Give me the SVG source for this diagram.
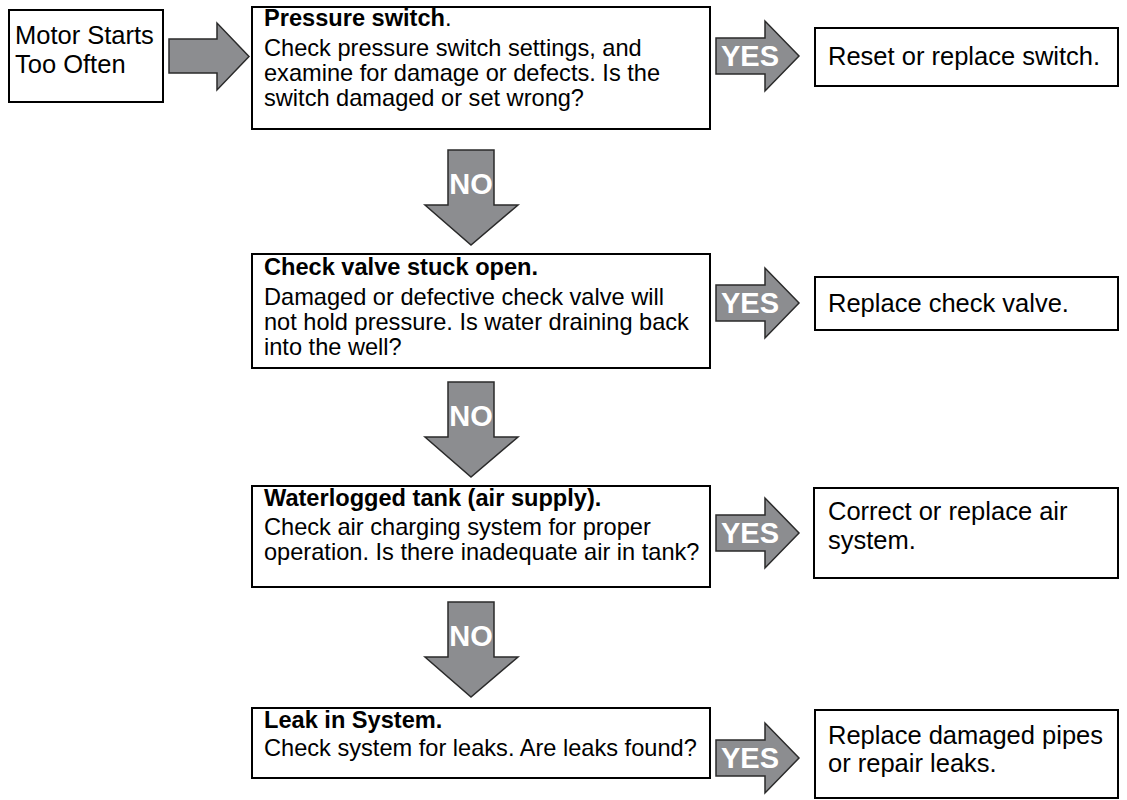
<svg xmlns="http://www.w3.org/2000/svg" width="1127" height="800" viewBox="0 0 1127 800">
<style>
.box{fill:#fff;stroke:#000;stroke-width:2}
.arr{fill:#8c8d90;stroke:#2a2a2a;stroke-width:1.5;stroke-linejoin:miter}
.t{font-family:"Liberation Sans",Arial,Helvetica,sans-serif;font-size:23.6px;fill:#000}
.tl{font-family:"Liberation Sans",Arial,Helvetica,sans-serif;font-size:25.5px;fill:#000}
.b{font-weight:bold}
.lbl{font-family:"Liberation Sans",Arial,Helvetica,sans-serif;font-weight:bold;font-size:29px;fill:#fff;text-anchor:middle}
</style>
<rect width="1127" height="800" fill="#fff"/>
<g id="connectors">
  <path class="arr" d="M169,39 H217 V23 L249,56.5 L217,90 V73 H169 Z"/>
  <g id="no1"><path class="arr" d="M448,150 H494 V205 H518 L471,245 L425,205 H448 Z"/><text class="lbl" x="471" y="194">NO</text></g>
  <g id="no2"><path class="arr" d="M448,382 H494 V437 H518 L471,477 L425,437 H448 Z"/><text class="lbl" x="471" y="426">NO</text></g>
  <g id="no3"><path class="arr" d="M448,602 H494 V657 H518 L471,697 L425,657 H448 Z"/><text class="lbl" x="471" y="646">NO</text></g>
  <g id="yes1"><path class="arr" d="M716,38 H765 V21 L799,56 L765,91 V74 H716 Z"/><text class="lbl" x="750" y="66">YES</text></g>
  <g id="yes2"><path class="arr" d="M716,285 H765 V268 L799,303 L765,338 V321 H716 Z"/><text class="lbl" x="750" y="313">YES</text></g>
  <g id="yes3"><path class="arr" d="M716,515 H765 V498 L799,533 L765,568 V551 H716 Z"/><text class="lbl" x="750" y="543">YES</text></g>
  <g id="yes4"><path class="arr" d="M716,740 H765 V723 L799,758 L765,793 V776 H716 Z"/><text class="lbl" x="750" y="768">YES</text></g>
</g>
<g id="start">
  <rect class="box" x="9" y="10" width="154" height="92"/>
  <text class="tl" x="15" y="44">Motor Starts</text>
  <text class="tl" x="15" y="73">Too Often</text>
</g>
<g id="q1">
  <rect class="box" x="252" y="7" width="458" height="122"/>
  <text class="t" x="264" y="26"><tspan class="b">Pressure switch</tspan>.</text>
  <text class="t" x="264" y="56">Check pressure switch settings, and</text>
  <text class="t" x="264" y="81">examine for damage or defects. Is the</text>
  <text class="t" x="264" y="106">switch damaged or set wrong?</text>
</g>
<g id="q2">
  <rect class="box" x="252" y="254" width="458" height="114"/>
  <text class="t b" x="264" y="275">Check valve stuck open.</text>
  <text class="t" x="264" y="305">Damaged or defective check valve will</text>
  <text class="t" x="264" y="330">not hold pressure. Is water draining back</text>
  <text class="t" x="264" y="355">into the well?</text>
</g>
<g id="q3">
  <rect class="box" x="252" y="486" width="458" height="101"/>
  <text class="t b" x="264" y="506">Waterlogged tank (air supply).</text>
  <text class="t" x="264" y="535">Check air charging system for proper</text>
  <text class="t" x="264" y="560">operation. Is there inadequate air in tank?</text>
</g>
<g id="q4">
  <rect class="box" x="252" y="708" width="458" height="70"/>
  <text class="t b" x="264" y="728">Leak in System.</text>
  <text class="t" x="264" y="756">Check system for leaks. Are leaks found?</text>
</g>
<g id="r1">
  <rect class="box" x="815" y="28" width="303" height="58"/>
  <text class="tl" x="828" y="65">Reset or replace switch.</text>
</g>
<g id="r2">
  <rect class="box" x="815" y="277" width="303" height="53"/>
  <text class="tl" x="828" y="312">Replace check valve.</text>
</g>
<g id="r3">
  <rect class="box" x="814" y="488" width="304" height="90"/>
  <text class="tl" x="828" y="520">Correct or replace air</text>
  <text class="tl" x="828" y="549">system.</text>
</g>
<g id="r4">
  <rect class="box" x="815" y="710" width="303" height="88"/>
  <text class="tl" x="828" y="744">Replace damaged pipes</text>
  <text class="tl" x="828" y="772">or repair leaks.</text>
</g>
</svg>
